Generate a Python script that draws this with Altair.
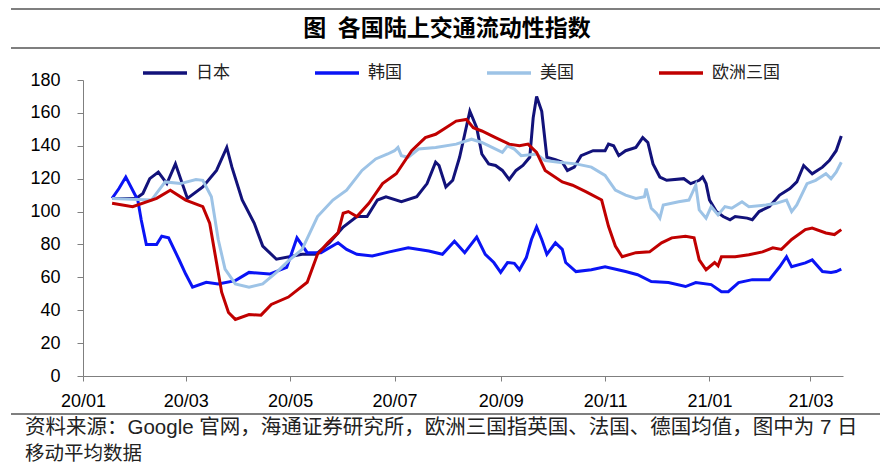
import altair as alt
import pandas as pd

TITLE = "图\u2002各国陆上交通流动性指数"
NOTE1 = "资料来源：Google 官网，海通证券研究所，欧洲三国指英国、法国、德国均值，图中为 7 日"
NOTE2 = "移动平均数据"

SERIES = ["日本", "韩国", "美国", "欧洲三国"]
COLORS = ["#12127A", "#0A14F5", "#9DC3E6", "#C00000"]

JAPAN = [("2020-01-18",108),("2020-02-01",108),("2020-02-05",111),("2020-02-09",120),("2020-02-14",124),
 ("2020-02-19",117),("2020-02-24",129),("2020-03-02",108),("2020-03-11",115),("2020-03-19",125),
 ("2020-03-25",139),("2020-03-28",127),("2020-04-03",107),("2020-04-10",93),("2020-04-15",79),
 ("2020-04-23",71),("2020-05-08",74),("2020-05-16",74),("2020-05-24",81),("2020-06-01",90.6),
 ("2020-06-09",97),("2020-06-15",97),("2020-06-21",107),("2020-06-26",109),("2020-07-05",106),
 ("2020-07-14",109),("2020-07-20",117),("2020-07-25",130),("2020-07-27",128),("2020-07-31",115),
 ("2020-08-04",119),("2020-08-08",133),("2020-08-11",147),("2020-08-14",161),("2020-08-18",151),
 ("2020-08-21",135),("2020-08-25",129),("2020-08-29",128),("2020-09-02",125),("2020-09-06",119.5),
 ("2020-09-10",125),("2020-09-14",128),("2020-09-18",133),("2020-09-20",157),("2020-09-22",170),
 ("2020-09-25",161),("2020-09-28",133),("2020-10-03",131.6),("2020-10-07",130),("2020-10-10",125),
 ("2020-10-14",127),("2020-10-18",134),("2020-10-25",137),("2020-11-01",137),("2020-11-03",141),
 ("2020-11-06",140),("2020-11-09",134),("2020-11-13",137),("2020-11-19",139),("2020-11-23",145),
 ("2020-11-26",142),("2020-11-29",129),("2020-12-03",121),("2020-12-07",119),("2020-12-17",120),
 ("2020-12-21",117),("2020-12-26",119),("2020-12-28",121),("2020-12-30",117),("2021-01-01",107),
 ("2021-01-05",100),("2021-01-09",97),("2021-01-13",95),("2021-01-16",97),("2021-01-23",96),
 ("2021-01-26",95),("2021-01-30",100),("2021-02-05",103),("2021-02-11",110),("2021-02-17",114),
 ("2021-02-21",118),("2021-02-25",128),("2021-03-02",123),("2021-03-08",127),("2021-03-12",131),
 ("2021-03-16",137),("2021-03-19",146)]

KOREA = [("2020-01-18",108),("2020-01-22",114),("2020-01-26",121),("2020-02-02",107),("2020-02-04",95),
 ("2020-02-07",80),("2020-02-13",80),("2020-02-16",85),("2020-02-20",84),("2020-02-26",71),
 ("2020-03-01",62),("2020-03-05",54),("2020-03-13",57),("2020-03-20",56),("2020-03-30",58),
 ("2020-04-07",63),("2020-04-19",62),("2020-04-29",66),("2020-05-05",84),("2020-05-11",75),
 ("2020-05-19",75),("2020-05-29",81),("2020-06-03",77),("2020-06-09",74),("2020-06-18",73),
 ("2020-06-28",75.5),("2020-07-09",78),("2020-07-21",76),("2020-07-29",74),("2020-08-05",82),
 ("2020-08-11",75),("2020-08-18",84.5),("2020-08-23",74),("2020-08-28",69),("2020-09-01",63),
 ("2020-09-05",69),("2020-09-09",68.5),("2020-09-12",64.6),("2020-09-16",72),("2020-09-19",83),
 ("2020-09-22",90.6),("2020-09-25",83),("2020-09-28",74),("2020-10-03",81),("2020-10-07",77),
 ("2020-10-09",69),("2020-10-15",63.5),("2020-10-24",64.6),("2020-11-01",66.4),("2020-11-13",63.5),
 ("2020-11-20",61.6),("2020-11-28",57.4),("2020-12-08",56.8),("2020-12-18",54.4),("2020-12-24",56.8),
 ("2021-01-02",55.6),("2021-01-08",51.3),("2021-01-12",51.3),("2021-01-18",56.8),("2021-01-26",58.6),
 ("2021-02-05",58.6),("2021-02-11",66.4),("2021-02-15",72.5),("2021-02-18",66.4),("2021-02-26",68.8),
 ("2021-03-02",70.6),("2021-03-08",63.5),("2021-03-13",63),("2021-03-16",63.5),("2021-03-19",65)]

USA = [("2020-01-18",108),("2020-02-10",107),("2020-02-18",118),("2020-02-27",117),("2020-03-07",119.5),
 ("2020-03-11",119),("2020-03-16",109),("2020-03-20",83),("2020-03-24",65),("2020-03-30",56),
 ("2020-04-07",54),("2020-04-15",56),("2020-04-23",63),("2020-04-30",70),("2020-05-08",77),
 ("2020-05-17",97),("2020-05-26",107),("2020-06-03",113),("2020-06-12",125),("2020-06-20",132),
 ("2020-06-27",135),("2020-07-01",137),("2020-07-03",139),("2020-07-05",134),("2020-07-09",133),
 ("2020-07-15",138),("2020-07-25",139),("2020-08-06",141),("2020-08-15",144),("2020-08-21",142),
 ("2020-08-27",139),("2020-09-02",136),("2020-09-05",140),("2020-09-09",138),("2020-09-13",134),
 ("2020-09-22",135),("2020-09-27",131),("2020-10-05",130),("2020-10-15",129),("2020-10-24",127),
 ("2020-11-01",122),("2020-11-07",113),("2020-11-13",110),("2020-11-19",108),("2020-11-24",109),
 ("2020-11-25",114),("2020-11-28",102),("2020-12-01",99),("2020-12-03",96),("2020-12-05",104),
 ("2020-12-14",106),("2020-12-20",107),("2020-12-24",116),("2020-12-26",101),("2020-12-30",96),
 ("2021-01-02",103),("2021-01-06",98),("2021-01-10",103),("2021-01-14",102),("2021-01-20",106),
 ("2021-01-24",103),("2021-02-03",104),("2021-02-09",105),("2021-02-15",107),("2021-02-18",100),
 ("2021-02-21",104),("2021-02-27",117),("2021-03-04",119),("2021-03-10",123),("2021-03-13",120),
 ("2021-03-16",124),("2021-03-19",130)]

EUROPE = [("2020-01-18",105),("2020-01-30",103),("2020-02-13",108),("2020-02-21",113),("2020-03-01",107),
 ("2020-03-11",103),("2020-03-15",93),("2020-03-19",69),("2020-03-22",51),("2020-03-26",38.6),
 ("2020-03-30",34.4),("2020-04-07",37.4),("2020-04-14",37),("2020-04-20",43.5),("2020-04-30",48),
 ("2020-05-11",57),("2020-05-17",74),("2020-05-23",81),("2020-05-29",87),("2020-06-01",99),
 ("2020-06-04",100),("2020-06-09",97),("2020-06-16",105),("2020-06-24",117),("2020-07-02",123),
 ("2020-07-11",137),("2020-07-19",145),("2020-07-25",147),("2020-07-31",151),("2020-08-06",155),
 ("2020-08-12",156),("2020-08-16",151),("2020-08-21",149),("2020-08-29",145),("2020-09-06",141),
 ("2020-09-12",140),("2020-09-17",141),("2020-09-22",136),("2020-09-27",125),("2020-10-07",118),
 ("2020-10-13",116),("2020-10-21",112),("2020-10-30",107),("2020-11-03",91),("2020-11-07",79),
 ("2020-11-11",72.5),("2020-11-19",75),("2020-11-27",75.5),("2020-12-04",81),("2020-12-10",84),
 ("2020-12-18",85),("2020-12-23",84),("2020-12-26",70.6),("2020-12-30",64.6),("2021-01-04",69),
 ("2021-01-06",67),("2021-01-08",72.5),("2021-01-16",72.5),("2021-01-24",73.7),("2021-02-01",75.5),
 ("2021-02-07",78),("2021-02-12",77),("2021-02-18",83),("2021-02-26",89),("2021-03-02",90),
 ("2021-03-10",87),("2021-03-15",86),("2021-03-19",89)]

rows = []
for name, pts in zip(SERIES, [JAPAN, KOREA, USA, EUROPE]):
    for d, v in pts:
        rows.append({"date": d, "value": v, "country": name, "order": SERIES.index(name)})
df = pd.DataFrame(rows)
df["date"] = pd.to_datetime(df["date"])

TICK_DATES = [alt.DateTime(year=2020, month=m, date=1) for m in (1, 3, 5, 7, 9, 11)] + \
             [alt.DateTime(year=2021, month=m, date=1) for m in (1, 3)]
X_DOMAIN = [alt.DateTime(year=2020, month=1, date=1), alt.DateTime(year=2021, month=3, date=20)]

AX = "#7f7f7f"
NUMFONT = "Liberation Sans"
CJK = "Liberation Sans, Noto Sans CJK SC"

lines = alt.Chart(df).mark_line(strokeWidth=3).encode(
    x=alt.X("date:T", scale=alt.Scale(domain=X_DOMAIN, nice=False),
            axis=alt.Axis(format="%y/%m", values=TICK_DATES, title=None, grid=False,
                          labelFont=NUMFONT, labelFontSize=18, labelColor="#000",
                          domainColor=AX, tickColor=AX, tickSize=5, labelPadding=11,
                          labelFlush=False, labelOverlap=False)),
    y=alt.Y("value:Q", scale=alt.Scale(domain=[0, 180], nice=False),
            axis=alt.Axis(values=list(range(0, 181, 20)), title=None, grid=False,
                          labelFont=NUMFONT, labelFontSize=18, labelColor="#000",
                          domainColor=AX, tickColor=AX, tickSize=6, labelPadding=17)),
    color=alt.Color("country:N", scale=alt.Scale(domain=SERIES, range=COLORS),
                    legend=alt.Legend(title=None, orient="none", legendX=58, legendY=-31,
                                      direction="horizontal", columns=4, gridAlign="all",
                                      symbolType="stroke",
                                      symbolSize=1936, symbolStrokeWidth=3.5, labelOffset=7,
                                      labelFont="Noto Sans CJK SC", labelFontSize=17,
                                      labelColor="#222", columnPadding=44)),
    detail="order:O",
)

blank = alt.Data(values=[{"a": 1}])

def hrule(ypix):
    return alt.Chart(blank).mark_rule(color="#555", strokeWidth=1.5).encode(
        x=alt.value(-72), x2=alt.value(797), y=alt.value(ypix))

title = alt.Chart(pd.DataFrame({"t": [TITLE]})).mark_text(
    font="Noto Sans CJK SC", fontSize=23, fontWeight="bold", color="#000",
    align="center", baseline="middle").encode(text="t:N", x=alt.value(364), y=alt.value(-51))

note1 = alt.Chart(pd.DataFrame({"t": [NOTE1]})).mark_text(
    font=CJK, fontSize=20.5, color="#222", align="left", baseline="middle").encode(
    text="t:N", x=alt.value(-58), y=alt.value(348))
note2 = alt.Chart(pd.DataFrame({"t": [NOTE2]})).mark_text(
    font=CJK, fontSize=19.5, color="#222", align="left", baseline="middle").encode(
    text="t:N", x=alt.value(-58), y=alt.value(374))

chart = alt.layer(lines, hrule(-71), hrule(-32), hrule(334), title, note1, note2).properties(
    width=760, height=296,
    padding={"left": 75, "top": 72, "right": 37, "bottom": 89},
    autosize=alt.AutoSizeParams(type="none"),
).configure_view(strokeWidth=0)

chart.save("out.html", embed_options={"renderer": "svg", "actions": False})
